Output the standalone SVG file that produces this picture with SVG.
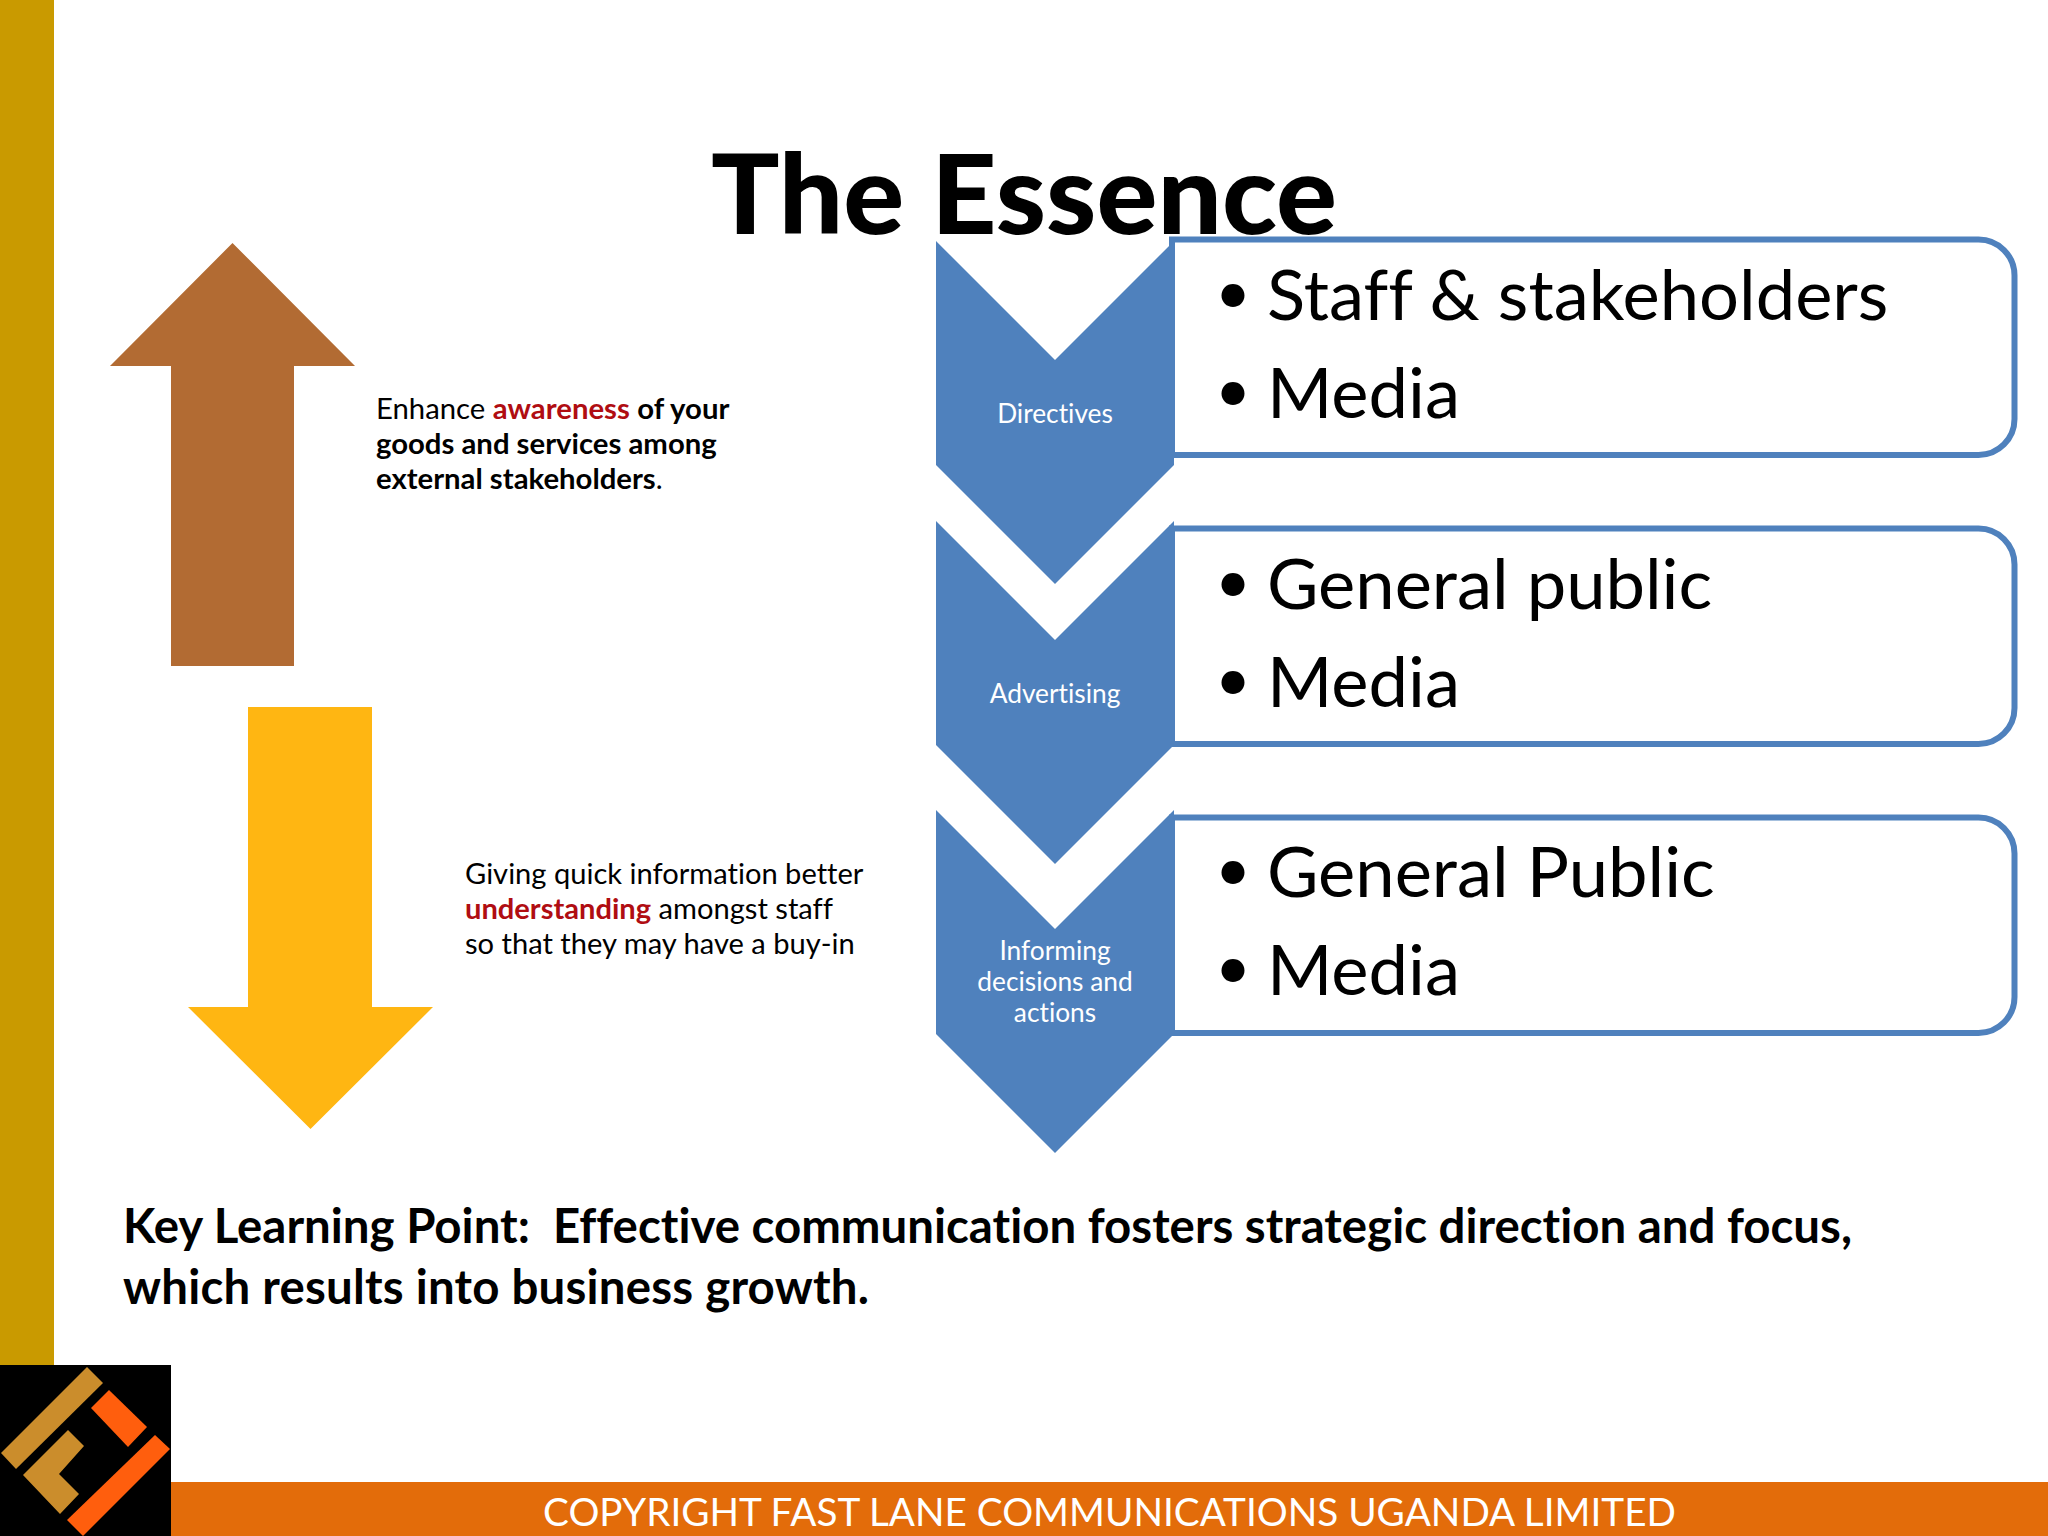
<svg xmlns="http://www.w3.org/2000/svg" width="2048" height="1536" viewBox="0 0 2048 1536">
<style>
text{font-family:"Lato","Carlito","Open Sans",sans-serif;fill:#000;font-variant-ligatures:none;white-space:pre}
.b{font-weight:700}
.r{fill:#B00D12;font-weight:700}
.side{font-size:29.300px}
.side2{font-size:29.100px}
.chev{fill:#4F81BD}
.chl{font-size:26.300px;fill:#fff;text-anchor:middle}
.box{fill:#fff;stroke:#4F81BD;stroke-width:6}
.li{font-size:70.500px}
.bu{font-size:62px}
.tan{fill:#CB8D2C}
.org{fill:#FF5E0D}
</style>
<rect width="2048" height="1536" fill="#fff"/>
<rect x="0" y="0" width="54" height="1365" fill="#C99A00"/>
<rect x="171" y="1482" width="1877" height="54" fill="#E36C0A"/>
<text x="1024" y="234" text-anchor="middle" font-weight="900" font-size="110" textLength="626" lengthAdjust="spacingAndGlyphs">The Essence</text>

<g id="logo">
<rect x="0" y="1365" width="171" height="171" fill="#000"/>
<polygon class="tan" points="87,1367 103,1383 16,1469 1,1453"/>
<polygon class="tan" points="68,1430 84,1446 59,1474 79,1494 60,1514 23,1475"/>
<polygon class="org" points="109,1390 147,1427 128,1447 91,1408"/>
<polygon class="org" points="155,1435 170,1449 83,1536 67,1520"/>
</g>

<g id="arrow-up"><polygon points="232.500,243 355,366 294,366 294,666 171,666 171,366 110,366" fill="#B26B33"/></g>
<g id="arrow-down"><polygon points="248,707 372,707 372,1007 433,1007 310.500,1129 188,1007 248,1007" fill="#FFB612"/></g>

<g id="text-awareness">
<text x="376" y="419" class="side">Enhance <tspan class="r">awareness</tspan> <tspan class="b">of your</tspan></text>
<text x="376" y="454" class="side b">goods and services among</text>
<text x="376" y="489" class="side"><tspan class="b">external stakeholders</tspan>.</text>
</g>
<g id="text-understanding">
<text x="465" y="884" class="side2">Giving quick information better</text>
<text x="465" y="919" class="side2"><tspan class="r">understanding</tspan> amongst staff</text>
<text x="465" y="954" class="side2">so that they may have a buy-in</text>
</g>

<g id="box-1">
<path class="box" d="M1172,239.500H1978.500a36,36 0 0 1 36,36V419a36,36 0 0 1 -36,36H1172Z"/>
<text x="1215" y="314" class="bu">•</text><text x="1267" y="320" class="li">Staff &amp; stakeholders</text>
<text x="1215" y="412" class="bu">•</text><text x="1267" y="418" class="li">Media</text>
</g>
<g id="box-2">
<path class="box" d="M1172,528.500H1978.500a36,36 0 0 1 36,36V708a36,36 0 0 1 -36,36H1172Z"/>
<text x="1215" y="603" class="bu">•</text><text x="1267" y="609" class="li">General public</text>
<text x="1215" y="701" class="bu">•</text><text x="1267" y="707" class="li">Media</text>
</g>
<g id="box-3">
<path class="box" d="M1172,817.500H1978.500a36,36 0 0 1 36,36V997a36,36 0 0 1 -36,36H1172Z"/>
<text x="1215" y="891" class="bu">•</text><text x="1267" y="897" class="li">General Public</text>
<text x="1215" y="989" class="bu">•</text><text x="1267" y="995" class="li">Media</text>
</g>
<g id="chevron-1">
<polygon class="chev" points="936,241 1055,360 1174,241 1174,465 1055,584 936,465"/>
<text x="1055" y="423" class="chl">Directives</text>
</g>
<g id="chevron-2">
<polygon class="chev" points="936,521 1055,640 1174,521 1174,745 1055,864 936,745"/>
<text x="1055" y="703" class="chl">Advertising</text>
</g>
<g id="chevron-3">
<polygon class="chev" points="936,810 1055,929 1174,810 1174,1034 1055,1153 936,1034"/>
<text x="1055" y="960" class="chl">Informing</text>
<text x="1055" y="991" class="chl">decisions and</text>
<text x="1055" y="1022" class="chl">actions</text>
</g>

<text x="123" y="1243" class="b" font-size="47.400" textLength="1729" lengthAdjust="spacing">Key Learning Point:  Effective communication fosters strategic direction and focus,</text>
<text x="123" y="1304" class="b" font-size="47.400" textLength="746" lengthAdjust="spacing">which results into business growth.</text>
<text x="1109.500" y="1526" text-anchor="middle" font-size="38.700" style="fill:#fff">COPYRIGHT FAST LANE COMMUNICATIONS UGANDA LIMITED</text>
</svg>
